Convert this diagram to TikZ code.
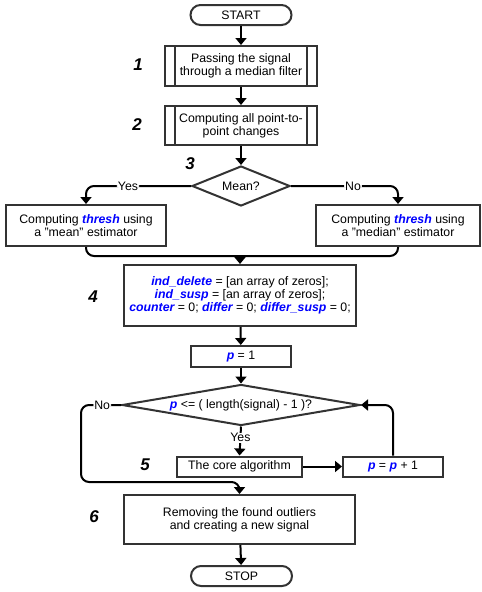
\documentclass[tikz,border=0pt]{standalone}
\usepackage{fontspec}
\setmainfont{Liberation Sans}
\usetikzlibrary{arrows.meta,shapes.geometric}
\newcommand{\var}[1]{\textcolor{blue}{\bfseries\itshape #1}}

\begin{document}
\begin{tikzpicture}[x=1pt,y=-1pt,
  font=\fontsize{12.3}{13.3}\selectfont,
  box/.style={draw=black!80,line width=2pt,fill=white,align=center,inner sep=0pt,minimum height=20pt},
  term/.style={box,rounded corners=10pt,minimum width=101pt},
  test/.style={diamond,draw=black!80,line width=2pt,fill=white,inner sep=0pt},
  flow/.style={line width=2pt,-{Triangle[length=7pt,width=11pt]}},
  bare/.style={line width=2pt},
  answer/.style={fill=white,inner sep=1pt},
  stepno/.style={font=\fontsize{17}{19}\selectfont\bfseries\itshape},
]
  \fill [white] (0,0) rectangle (482,592);

  % the blocks
  \node [term] (start) at (241,15) {START};
  \node [box,minimum width=152pt,minimum height=40pt] (pass) at (241,66)
    {Passing the signal\\through a median filter};
  \node [box,minimum width=152pt,minimum height=39pt] (changes) at (241,125.5)
    {Computing all point-to-\\point changes};
  \node [test,minimum width=98pt,minimum height=40pt,shape aspect=2.45] (mean) at (241,186) {Mean?};
  \node [box,minimum width=160pt,minimum height=41pt] (meanbox) at (86,225.5)
    {Computing \var{thresh} using\\a "mean" estimator};
  \node [box,minimum width=164pt,minimum height=41pt] (medianbox) at (398,225.5)
    {Computing \var{thresh} using\\a "median" estimator};
  \node [box,minimum width=232pt,minimum height=61pt] (init) at (240,295.5)
    {\var{ind\_delete} = [an array of zeros];\\
     \var{ind\_susp} = [an array of zeros];\\
     \var{counter} = 0; \var{differ} = 0; \var{differ\_susp} = 0;};
  \node [box,minimum width=100pt,minimum height=21pt] (pone) at (241,356.5) {\var{p} = 1};
  \node [test,minimum width=238pt,minimum height=41pt,shape aspect=5.8] (cond) at (241,405)
    {\var{p} <= ( length(signal) - 1 )?};
  \node [box,minimum width=125pt] (core) at (239.5,466.5) {The core algorithm};
  \node [box,minimum width=100pt] (incr) at (393,466.5) {\var{p} = \var{p} + 1};
  \node [box,minimum width=231pt,minimum height=49pt] (remove) at (239.5,519.5)
    {Removing the found outliers\\and creating a new signal};
  \node [term] (stop) at (241.5,576) {STOP};

  % side bars of the predefined processes
  \foreach \n in {pass,changes}{
    \draw [draw=black!80,line width=2pt] ([xshift=11pt]\n.north west) -- ([xshift=11pt]\n.south west);
    \draw [draw=black!80,line width=2pt] ([xshift=-11pt]\n.north east) -- ([xshift=-11pt]\n.south east);
  }

  % step numbers
  \node [stepno] (s1) at (138,65) {1};
  \node [stepno] (s2) at (137,125) {2};
  \node [stepno] (s3) at (190,164) {3};
  \node [stepno] (s4) at (93,297) {4};
  \node [stepno] (s5) at (145,465) {5};
  \node [stepno] (s6) at (94,517) {6};

  % connectors
  \draw [flow] (start) -- (pass);
  \draw [flow] (pass) -- (changes);
  \draw [flow] (changes) -- (mean);
  \draw [flow,rounded corners=8pt] (mean.west) -| (meanbox.north)
    node [answer,pos=0.3] {Yes};
  \draw [flow,rounded corners=8pt] (mean.east) -| (medianbox.north)
    node [answer,pos=0.29] {No};
  \coordinate (join) at ([yshift=8pt]init.north);
  \draw [bare,rounded corners=8pt] (meanbox.south) |- (join);
  \draw [bare,rounded corners=8pt] (medianbox.south) |- (join);
  \draw [flow] (join) -- (init.north);
  \draw [flow] (init) -- (pone);
  \draw [flow] (pone) -- (cond);
  \draw [flow] (cond.south) -- (core.north)
    node [answer,pos=0.39] {Yes};
  \draw [flow] (core) -- (incr);
  \draw [flow,rounded corners=8pt] (incr.north) |- (cond.east);
  \draw [flow,rounded corners=8pt]
    (cond.west)
    -- ++(-40,0)
      node [answer,pos=0.47] {No}
    |- ([yshift=12pt]remove.north)
    -- (remove.north)
  ;
  \draw [flow] (remove) -- (stop);
\end{tikzpicture}
\end{document}
